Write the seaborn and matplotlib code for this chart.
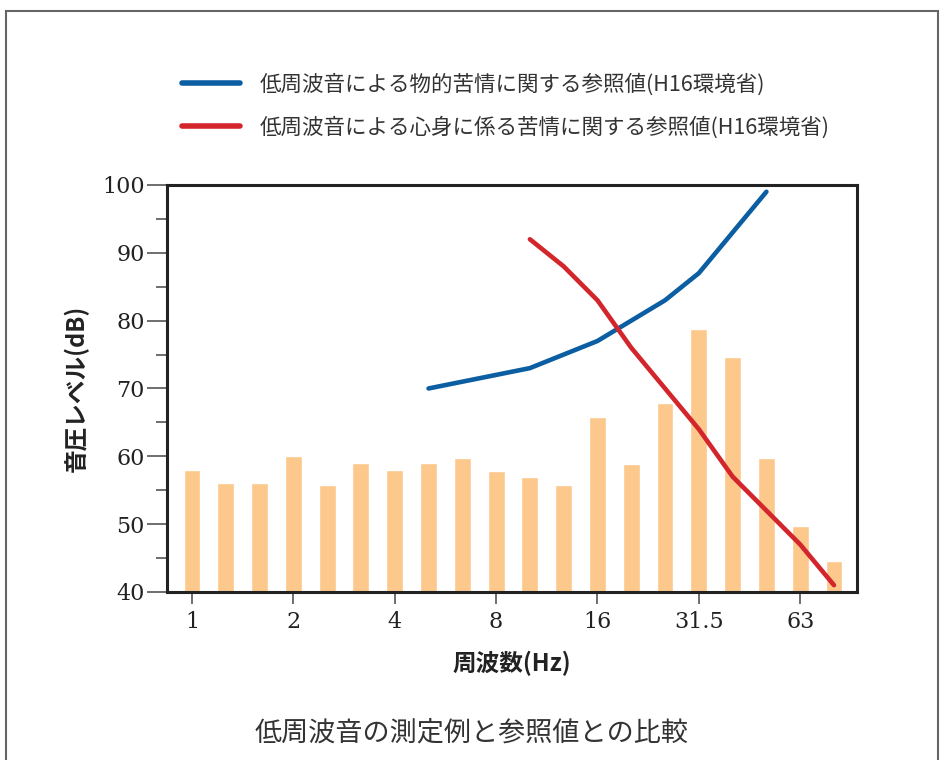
import matplotlib
matplotlib.use("Agg")
import matplotlib.pyplot as plt
import seaborn as sns
import pandas as pd
from matplotlib.patches import Rectangle
from matplotlib.ticker import MultipleLocator

# ---- data ----
bands = ["1", "1.25", "1.6", "2", "2.5", "3.15", "4", "5", "6.3", "8",
         "10", "12.5", "16", "20", "25", "31.5", "40", "50", "63", "80"]
measured = [58, 56, 56, 60, 55.8, 59, 58, 59, 59.8, 57.8,
            56.9, 55.7, 65.8, 58.8, 67.8, 78.7, 74.7, 59.7, 49.7, 44.6]

physical_bands = ["5", "6.3", "8", "10", "12.5", "16", "20", "25", "31.5", "40", "50"]
physical_vals = [70, 71, 72, 73, 75, 77, 80, 83, 87, 93, 99]

mental_bands = ["10", "12.5", "16", "20", "25", "31.5", "40", "50", "63", "80"]
mental_vals = [92, 88, 83, 76, 70, 64, 57, 52, 47, 41]

tick_labels = ["1", "2", "4", "8", "16", "31.5", "63"]

label_physical = "低周波音による物的苦情に関する参照値(H16環境省)"
label_mental = "低周波音による心身に係る苦情に関する参照値(H16環境省)"
xlabel = "周波数(Hz)"
ylabel = "音圧レベル(dB)"
caption = "低周波音の測定例と参照値との比較"

# ---- style ----
sns.set_theme(style="white")
plt.rcParams["font.family"] = ["Noto Sans CJK JP", "DejaVu Sans"]

BAR = "#FDC88C"
BLUE = "#0B5EA1"
RED = "#D3262C"
DARK = "#222222"

fig = plt.figure(figsize=(9.44, 7.6), dpi=100)
ax = fig.add_axes([0.1769, 0.2211, 0.7309, 0.5355])

df_bar = pd.DataFrame({"band": bands, "level": measured})
sns.barplot(data=df_bar, x="band", y="level", order=bands, color=BAR,
            saturation=1, width=0.5, ax=ax)

pos = {b: i for i, b in enumerate(bands)}
df_phys = pd.DataFrame({"x": [pos[b] for b in physical_bands], "y": physical_vals})
df_ment = pd.DataFrame({"x": [pos[b] for b in mental_bands], "y": mental_vals})
sns.lineplot(data=df_phys, x="x", y="y", color=BLUE, lw=3.3, ax=ax,
             label=label_physical, solid_capstyle="round", solid_joinstyle="round")
sns.lineplot(data=df_ment, x="x", y="y", color=RED, lw=3.3, ax=ax,
             label=label_mental, solid_capstyle="round", solid_joinstyle="round")

ax.set_xlim(-0.74, 19.68)
ax.set_ylim(40, 100)
ax.set_xticks([pos[t] for t in tick_labels])
ax.set_xticklabels(tick_labels)
ax.yaxis.set_major_locator(MultipleLocator(10))
ax.yaxis.set_minor_locator(MultipleLocator(5))

serif = ["DejaVu Serif"]
for lab in ax.get_xticklabels() + ax.get_yticklabels():
    lab.set_family(serif)
    lab.set_fontsize(16)
    lab.set_color(DARK)

ax.tick_params(axis="y", which="major", direction="out", length=14.4, width=1.2,
               color="#555555", left=True, pad=1.5)
ax.tick_params(axis="y", which="minor", direction="out", length=8, width=1.2,
               color="#555555", left=True)
ax.tick_params(axis="x", which="major", direction="out", length=8.6, width=1.2,
               color="#555555", bottom=True, pad=5)

for s in ax.spines.values():
    s.set_visible(True)
    s.set_linewidth(2.2)
    s.set_color(DARK)

ax.set_xlabel(xlabel, fontsize=17, fontweight="bold", color=DARK, labelpad=13)
ax.set_ylabel(ylabel, fontsize=17, fontweight="bold", color=DARK, labelpad=10)

handles, labels = ax.get_legend_handles_labels()
ax.get_legend().remove()
leg = fig.legend(handles, labels, loc="upper left", bbox_to_anchor=(0.172, 0.929),
                 frameon=False, fontsize=15.5, handlelength=2.7, handletextpad=0.9,
                 labelspacing=0.95)
for t in leg.get_texts():
    t.set_color("#333333")
for l in leg.get_lines():
    l.set_linewidth(4)

fig.text(0.5, 0.036, caption, ha="center", va="center", fontsize=19.5, color="#333333")

fig.patches.append(Rectangle((0.006, -0.01), 0.988, 0.995, transform=fig.transFigure,
                             fill=False, edgecolor="#666666", lw=1.5))

fig.savefig("out.png", dpi=100)
